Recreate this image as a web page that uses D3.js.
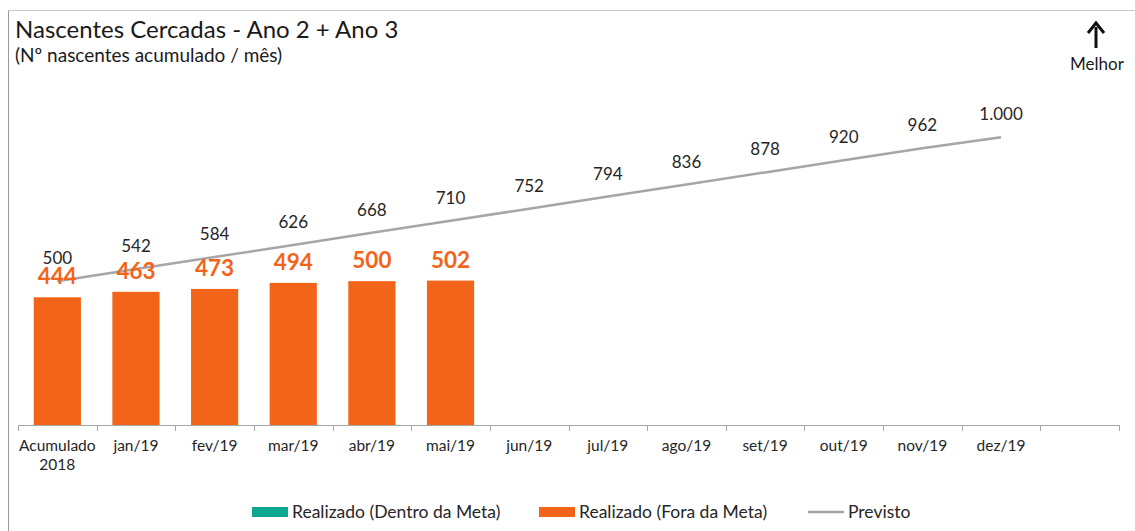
<!DOCTYPE html>
<html>
<head>
<meta charset="utf-8">
<script src="https://cdn.jsdelivr.net/npm/d3@7/dist/d3.min.js"></script>
<style>
  html, body { margin: 0; padding: 0; background: #fff; }
  svg { display: block; font-family: Lato, "Open Sans", sans-serif; }
</style>
</head>
<body>
<svg id="chart" width="1135" height="531"></svg>
<script>
// Categories on the x axis (last band left empty, as in the workbook layout)
const categories = ["Acumulado\n2018", "jan/19", "fev/19", "mar/19", "abr/19", "mai/19",
  "jun/19", "jul/19", "ago/19", "set/19", "out/19", "nov/19", "dez/19", ""];

// Realized cumulative springs fenced (only months already closed)
const realizado = [444, 463, 473, 494, 500, 502];

// Planned cumulative target per month
const previsto = [500, 542, 584, 626, 668, 710, 752, 794, 836, 878, 920, 962, 1000];

// Planned labels use Brazilian thousands separator
const previstoLabels = ["500", "542", "584", "626", "668", "710", "752", "794", "836", "878", "920", "962", "1.000"];

const legendItems = ["Realizado (Dentro da Meta)", "Realizado (Fora da Meta)", "Previsto"];

const COLORS = { dentro: "#0FA88C", fora: "#F26419", previsto: "#A6A6A6", axis: "#A6A6A6" };

const svg = d3.select("#chart");

// Outer frame (left and top edges)
svg.append("line").attr("x1", 8.5).attr("x2", 8.5).attr("y1", 10).attr("y2", 531)
  .attr("stroke", "#9a9a9a").attr("stroke-width", 1);
svg.append("line").attr("x1", 8).attr("x2", 1135).attr("y1", 10.5).attr("y2", 10.5)
  .attr("stroke", "#c8c8c8").attr("stroke-width", 1);

const x = d3.scaleBand().domain(d3.range(categories.length)).range([18, 1119]).padding(0);
const y = d3.scaleLinear().domain([0, 1200]).range([425, 79.8]);

const barW = x.bandwidth() * 0.6;
const cx = i => x(i) + x.bandwidth() / 2;

// Bars: realized values (all outside the target this year)
svg.append("g").selectAll("rect").data(realizado).join("rect")
  .attr("x", (d, i) => cx(i) - barW / 2)
  .attr("y", d => y(d))
  .attr("width", barW)
  .attr("height", d => y(0) - y(d))
  .attr("fill", COLORS.fora);

// Planned line
const line = d3.line().x((d, i) => cx(i)).y(d => y(d));
svg.append("path").datum(previsto)
  .attr("d", line)
  .attr("fill", "none")
  .attr("stroke", COLORS.previsto)
  .attr("stroke-width", 2.5);

// Planned value labels
svg.append("g").selectAll("text").data(previsto).join("text")
  .attr("x", (d, i) => cx(i))
  .attr("y", d => y(d) - 17)
  .attr("text-anchor", "middle")
  .attr("font-size", 17)
  .attr("fill", "#262626")
  .text((d, i) => previstoLabels[i]);

// Realized value labels
svg.append("g").selectAll("text").data(realizado).join("text")
  .attr("x", (d, i) => cx(i))
  .attr("y", d => y(d) - 13)
  .attr("text-anchor", "middle")
  .attr("font-size", 22.5)
  .attr("font-weight", "bold")
  .attr("fill", COLORS.fora)
  .text(d => d);

// X axis
const axis = svg.append("g").attr("transform", "translate(0,425)");
axis.append("line").attr("x1", 18).attr("x2", 1119).attr("y1", 0.5).attr("y2", 0.5)
  .attr("stroke", COLORS.axis);
const tickPos = d3.range(categories.length + 1).map(i => i < categories.length ? x(i) : 1119);
axis.selectAll("line.tick").data(tickPos).join("line").attr("class", "tick")
  .attr("x1", d => Math.round(d) + 0.5).attr("x2", d => Math.round(d) + 0.5)
  .attr("y1", 0).attr("y2", 6).attr("stroke", COLORS.axis);
const lbl = axis.selectAll("text.cat").data(categories).join("text").attr("class", "cat")
  .attr("x", (d, i) => cx(i))
  .attr("y", 26)
  .attr("text-anchor", "middle")
  .attr("font-size", 15.5)
  .attr("fill", "#262626");
lbl.each(function(d) {
  const parts = d.split("\n");
  d3.select(this).selectAll("tspan").data(parts).join("tspan")
    .attr("x", d3.select(this).attr("x"))
    .attr("dy", (p, j) => j === 0 ? 0 : 19)
    .text(p => p);
});

// Title and subtitle
svg.append("text").attr("x", 15).attr("y", 38).attr("font-size", 24).attr("fill", "#1a1a1a")
  .text("Nascentes Cercadas - Ano 2 + Ano 3");
svg.append("text").attr("x", 15).attr("y", 62).attr("font-size", 19).attr("fill", "#1a1a1a")
  .text("(Nº nascentes acumulado / mês)");

// "Better" indicator: arrow up
const ax = 1096;
svg.append("line").attr("x1", ax).attr("x2", ax).attr("y1", 48).attr("y2", 27)
  .attr("stroke", "#111").attr("stroke-width", 3);
svg.append("path").attr("d", `M${ax - 8},${33} L${ax},${23} L${ax + 8},${33}`)
  .attr("fill", "none").attr("stroke", "#111").attr("stroke-width", 3);
svg.append("text").attr("x", ax + 1).attr("y", 70).attr("text-anchor", "middle")
  .attr("font-size", 17).attr("fill", "#1a1a1a").text("Melhor");

// Legend
const legend = svg.append("g").attr("font-size", 17.5).attr("fill", "#262626");
const lx = [252, 539, 808];
legend.append("rect").attr("x", lx[0]).attr("y", 507).attr("width", 36).attr("height", 10).attr("fill", COLORS.dentro);
legend.append("rect").attr("x", lx[1]).attr("y", 507).attr("width", 36).attr("height", 10).attr("fill", COLORS.fora);
legend.append("line").attr("x1", lx[2]).attr("x2", lx[2] + 36).attr("y1", 512).attr("y2", 512)
  .attr("stroke", COLORS.previsto).attr("stroke-width", 2.5);
legend.selectAll("text").data(legendItems).join("text")
  .attr("x", (d, i) => lx[i] + 40)
  .attr("y", 518)
  .text(d => d);
</script>
</body>
</html>
